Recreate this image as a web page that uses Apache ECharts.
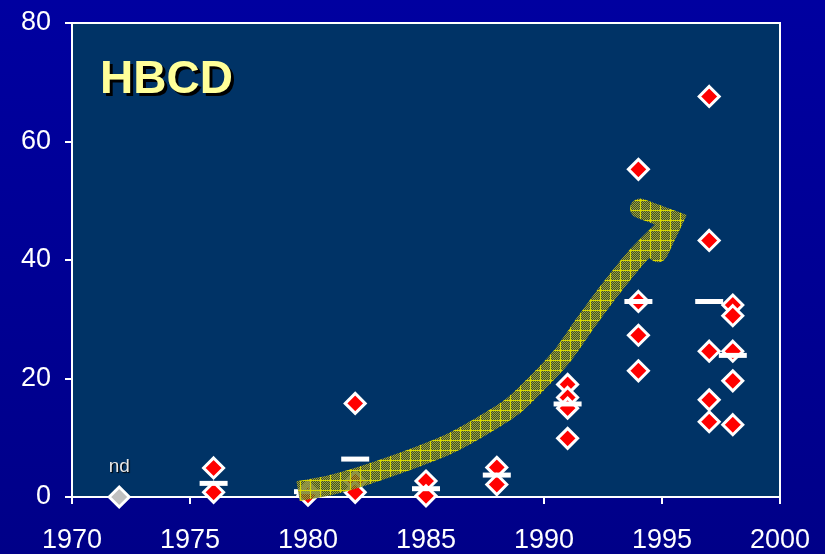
<!DOCTYPE html>
<html><head><meta charset="utf-8">
<script src="https://cdn.jsdelivr.net/npm/echarts@6/dist/echarts.min.js"></script>
<style>html,body{margin:0;padding:0;background:#000090;}#c{width:825px;height:554px;}</style>
</head><body><div id="c"></div>
<script>
// ---- data ----
const xTickYears = [1970, 1975, 1980, 1985, 1990, 1995, 2000];
const yTickValues = [0, 20, 40, 60, 80];
const sampleYears = [1976,1976, 1980,1980, 1982,1982,1982, 1985,1985, 1988,1988, 1991,1991,1991,1991, 1994,1994,1994,1994, 1997,1997,1997,1997,1997, 1998,1998,1998,1998,1998];
const sampleValues = [4.9,0.8, 0.9,0.3, 15.8,2.6,0.8, 2.7,0.2, 5.0,2.1, 19.0,16.8,15.0,9.9, 55.3,33.0,27.3,21.3, 67.6,43.3,24.6,16.4,12.7, 32.4,30.6,24.6,19.6,12.2];
const meanYears = [1976, 1980, 1982, 1985, 1988, 1991, 1994, 1997, 1998];
const meanValues = [2.3, 0.9, 6.4, 1.4, 3.7, 15.7, 33.0, 33.0, 23.9];
const ndYears = [1972];
const ndValues = [0];
const ndLabel = 'nd';
const titleText = 'HBCD';
// trend arrow path (in data coordinates)
const arrowBody = [[1979.58,1.0],[1980.93,2.0],[1982.2,3.4],[1983.9,5.7],[1985.89,8.8],[1987.29,11.8],[1988.64,15.2],[1989.7,19.2],[1990.76,23.75],[1991.78,29.5],[1992.8,35.0],[1993.94,40.6],[1995.25,45.8]];
const arrowHead = [[1994.07,48.7],[1995.47,46.65],[1994.83,41.3]];

const chart = echarts.init(document.getElementById('c'), null, {renderer: 'canvas'});
const font = 'Liberation Sans, Arial, sans-serif';

const zip = (xs, ys) => xs.map((x, i) => [x, ys[i]]);

chart.setOption({
  animation: false,
  backgroundColor: {type: 'linear', x: 0, y: 0, x2: 0, y2: 1, colorStops: [{offset: 0, color: '#0000a0'}, {offset: 1, color: '#000088'}]},
  grid: {left: 72, right: 45, top: 23, bottom: 56, show: true, backgroundColor: '#003366', borderColor: '#ffffff', borderWidth: 2},
  xAxis: {
    type: 'value', min: xTickYears[0], max: xTickYears[xTickYears.length - 1], interval: 5,
    axisLine: {lineStyle: {color: '#fff', width: 2}},
    axisTick: {show: true, inside: false, length: 7, lineStyle: {color: '#fff', width: 2}},
    splitLine: {show: false},
    axisLabel: {color: '#fff', fontSize: 27, fontFamily: font, margin: 30, formatter: v => String(v)}
  },
  yAxis: {
    type: 'value', min: yTickValues[0], max: yTickValues[yTickValues.length - 1], interval: 20,
    axisLine: {show: true, lineStyle: {color: '#fff', width: 2}},
    axisTick: {show: true, inside: false, length: 7, lineStyle: {color: '#fff', width: 2}},
    splitLine: {show: false},
    axisLabel: {color: '#fff', fontSize: 27, fontFamily: font, margin: 21, formatter: v => String(v)}
  },
  series: [
    {
      type: 'scatter', z: 3, symbol: 'diamond', symbolSize: 20,
      itemStyle: {color: '#c0c0c0', borderColor: '#fff', borderWidth: 3, opacity: 1},
      label: {show: true, position: 'top', distance: 9, formatter: ndLabel, color: '#e8e8e8', fontSize: 19, fontFamily: font,
              textShadowColor: '#000', textShadowOffsetX: 1, textShadowOffsetY: 1, textShadowBlur: 1},
      data: zip(ndYears, ndValues)
    },
    {
      type: 'scatter', z: 3, symbol: 'diamond', symbolSize: 20,
      itemStyle: {color: '#ff0000', borderColor: '#fff', borderWidth: 3, opacity: 1},
      data: zip(sampleYears, sampleValues)
    },
    {
      type: 'scatter', z: 4, symbol: 'rect', symbolSize: [28, 5],
      itemStyle: {color: '#ffffff', opacity: 1},
      data: zip(meanYears, meanValues)
    }
  ]
});

// hatched pattern for the trend arrow
const pc = document.createElement('canvas');
pc.width = 10; pc.height = 10;
const g = pc.getContext('2d');
for (let yy = 0; yy < 10; yy++) for (let xx = 0; xx < 10; xx++) {
  g.fillStyle = ((xx + yy) % 2 === 0) ? '#a8a82c' : 'rgba(70,80,40,0.75)';
  g.fillRect(xx, yy, 1, 1);
}
g.fillStyle = '#d8d800';
g.fillRect(0, 0, 10, 1);
g.fillRect(0, 0, 1, 10);
const pattern = {image: pc, repeat: 'repeat'};

const toPx = p => chart.convertToPixel({gridIndex: 0}, p);

chart.setOption({
  graphic: [
    {
      type: 'polyline', z: 100,
      shape: {points: arrowBody.map(toPx), smooth: 0.25},
      style: {stroke: pattern, fill: null, lineWidth: 20, lineCap: 'butt', lineJoin: 'round'}
    },
    {
      type: 'polyline', z: 100,
      shape: {points: arrowHead.map(toPx)},
      style: {stroke: pattern, fill: null, lineWidth: 20, lineCap: 'round', lineJoin: 'miter'}
    },
    {
      type: 'text', z: 109, left: 103, top: 60,
      style: {text: titleText, fill: '#000000', font: 'bold 46px ' + font}
    },
    {
      type: 'text', z: 110, left: 100, top: 57,
      style: {text: titleText, fill: '#ffff99', font: 'bold 46px ' + font}
    }
  ]
});
</script>
</body></html>
